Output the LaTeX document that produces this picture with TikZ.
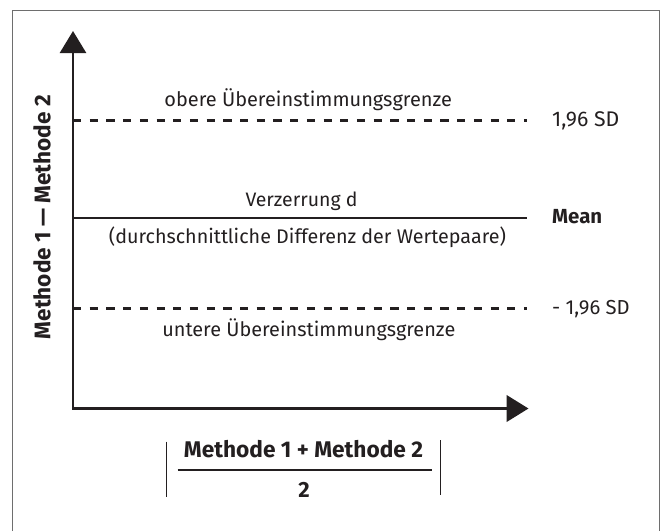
\documentclass[tikz,border=0pt]{standalone}
\usepackage{graphicx}
\usepackage{fontspec}
\setmainfont{Fira Sans}
\usetikzlibrary{arrows.meta}
\definecolor{ink}{HTML}{231F20}
\definecolor{framec}{HTML}{6E6E6E}
\newcommand{\fitw}[2]{\resizebox{#1}{!}{#2}}
\tikzset{
  axis/.style={draw=ink, line width=2.6pt},
  limitline/.style={draw=ink, line width=2.1pt, dash pattern=on 8.2pt off 8.5pt},
  meanline/.style={draw=ink, line width=2.2pt},
  lbl/.style={text=ink, font=\fontsize{20}{22}\selectfont, inner sep=0pt},
  blbl/.style={text=ink, font=\fontsize{20}{22}\selectfont\bfseries, inner sep=0pt},
  bar/.style={draw=ink, line width=1.3pt},
}
\begin{document}
\begin{tikzpicture}[x=1pt,y=-1pt]
\useasboundingbox (0,0) rectangle (661,531);
% frame (bottom edge lies outside the picture)
\draw[framec, line width=1.3pt] (12.7,531) -- (12.7,10.7) -- (659.3,10.7) -- (659.3,531);

% axes
\coordinate (origin) at (73,408.5);
\coordinate (ytip) at (73,31);
\coordinate (xtip) at (528.5,408.5);
\draw[axis, {Triangle[width=26pt,length=22pt]}-{Triangle[width=26.5pt,length=22pt]}] (ytip) |- (xtip);

% limit lines
\coordinate (uL) at (73,120.5);
\coordinate (uR) at (527,120.5);
\coordinate (mL) at (73,218);
\coordinate (mR) at (527,218);
\coordinate (lL) at (73,308.5);
\coordinate (lR) at (527,308.5);
\draw[limitline] (uL) -- (uR);
\draw[meanline] (mL) -- (mR);
\draw[limitline] (lL) -- (lR);

% labels
\node[lbl] (upper) at (308.2,100) {\fitw{287.6pt}{obere Übereinstimmungsgrenze}};
\node[lbl, anchor=west] (usd) at (552,121) {\fitw{67pt}{1,96 SD}};
\node[lbl] (bias) at (301.5,201) {\fitw{112pt}{Verzerrung d}};
\node[blbl, anchor=west] (mean) at (552,217) {\fitw{50pt}{Mean}};
\node[lbl] (biasx) at (307.4,237) {\fitw{397pt}{(durchschnittliche Differenz der Wertepaare)}};
\node[lbl, anchor=west] (lsd) at (552,309) {\fitw{77.5pt}{- 1,96 SD}};
\node[lbl] (lower) at (308.8,329.5) {\fitw{293pt}{untere Übereinstimmungsgrenze}};
\node[blbl, rotate=90] (ylab) at (42,217) {\fitw{244pt}{Methode 1 — Methode 2}};

% x-axis label as fraction
\node[blbl] (num) at (303.5,449) {\fitw{239pt}{Methode 1 + Methode 2}};
\node[blbl] (den) at (304,490) {\fontsize{22}{24}\selectfont 2};
\coordinate (fL) at (177.7,470);
\coordinate (fR) at (432,470);
\draw[bar] (fL) -- (fR);
\coordinate (b1t) at (166.7,441.5);
\coordinate (b1b) at (166.7,496.5);
\coordinate (b2t) at (440.7,440);
\coordinate (b2b) at (440.7,495);
\draw[bar] (b1t) -- (b1b);
\draw[bar] (b2t) -- (b2b);
\end{tikzpicture}
\end{document}
